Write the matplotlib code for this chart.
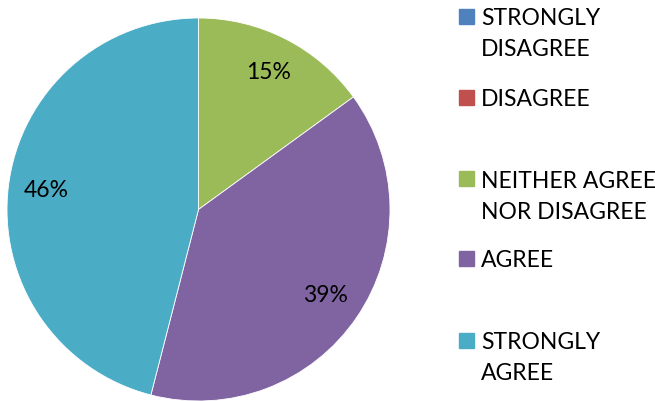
import matplotlib
matplotlib.use("Agg")
import matplotlib.pyplot as plt
from matplotlib.patches import Rectangle

labels = ["STRONGLY\nDISAGREE", "DISAGREE", "NEITHER AGREE\nNOR DISAGREE", "AGREE", "STRONGLY\nAGREE"]
values = [0, 0, 15, 39, 46]
colors = ["#4F81BD", "#C0504D", "#9BBB59", "#8064A2", "#4BACC6"]

plt.rcParams['font.family'] = ['Lato', 'DejaVu Sans']

fig = plt.figure(figsize=(6.55, 4.01), dpi=100)
ax = fig.add_axes([7/655, 0/401, 383/655, 383/401])
ax.pie(values, colors=colors, startangle=90, counterclock=False,
       autopct=lambda p: f"{p:.0f}%" if p > 0 else "", pctdistance=0.8,
       wedgeprops=dict(edgecolor="white", linewidth=0.6),
       textprops=dict(fontsize=16.5, color="black"))
ax.set_xlim(-1, 1); ax.set_ylim(-1, 1)
ax.set_aspect("equal")

# legend entries placed by hand, square aligned with first line
tops = [16, 97, 179, 258, 340]
for lab, col, yc in zip(labels, colors, tops):
    fig.patches.append(Rectangle((459/655, 1 - (yc + 7.5)/401), 15/655, 15/401,
                                 transform=fig.transFigure, color=col))
    for i, line in enumerate(lab.split("\n")):
        fig.text(481/655, 1 - (yc + 9 + 31*i)/401, line, fontsize=16.5,
                 va="baseline", ha="left")

plt.savefig("out.png", dpi=100)
